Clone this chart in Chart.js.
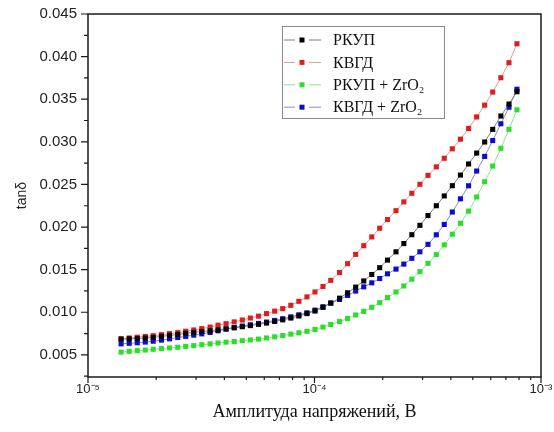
<!DOCTYPE html>
<html>
<head>
<meta charset="utf-8">
<script src="https://cdn.jsdelivr.net/npm/chart.js@4.4.1/dist/chart.umd.min.js"></script>
<style>
    html, body { margin: 0; padding: 0; background: #fff; }
    #wrap { width: 554px; height: 432px; }
</style>
</head>
<body>
<div id="wrap"><canvas id="lossChart" width="554" height="432"></canvas></div>
<script>
// амплитуда напряжений, В
var amplitude = [
    1.40e-5, 1.52e-5, 1.65e-5, 1.79e-5, 1.94e-5, 2.11e-5, 2.29e-5, 2.49e-5, 2.70e-5, 2.93e-5,
    3.18e-5, 3.46e-5, 3.75e-5, 4.07e-5, 4.42e-5, 4.80e-5, 5.21e-5, 5.66e-5, 6.14e-5, 6.67e-5,
    7.24e-5, 7.86e-5, 8.53e-5, 9.26e-5, 1.005e-4, 1.09e-4, 1.18e-4, 1.29e-4, 1.40e-4, 1.52e-4,
    1.65e-4, 1.79e-4, 1.94e-4, 2.10e-4, 2.29e-4, 2.48e-4, 2.69e-4, 2.92e-4, 3.17e-4, 3.45e-4,
    3.74e-4, 4.06e-4, 4.41e-4, 4.79e-4, 5.20e-4, 5.64e-4, 6.12e-4, 6.65e-4, 7.22e-4, 7.83e-4
];

var tanRkup = [
    0.00684, 0.00688, 0.00691, 0.00697, 0.00704, 0.00716, 0.00728, 0.00739, 0.00752, 0.00763,
    0.00774, 0.00783, 0.00794, 0.00805, 0.00817, 0.00830, 0.00843, 0.00858, 0.00873, 0.00892,
    0.00911, 0.00932, 0.00956, 0.00984, 0.01014, 0.01058, 0.01108, 0.01165, 0.01228, 0.01295,
    0.01367, 0.01443, 0.01523, 0.01612, 0.01709, 0.01806, 0.01910, 0.02020, 0.02135, 0.02250,
    0.02365, 0.02485, 0.02610, 0.02740, 0.02868, 0.02998, 0.03146, 0.03303, 0.03443, 0.03588
];

var tanKvgd = [
    0.00690, 0.00698, 0.00707, 0.00716, 0.00725, 0.00737, 0.00749, 0.00761, 0.00777, 0.00792,
    0.00808, 0.00826, 0.00848, 0.00866, 0.00887, 0.00909, 0.00932, 0.00954, 0.00984, 0.01013,
    0.01042, 0.01081, 0.01128, 0.01180, 0.01238, 0.01302, 0.01374, 0.01466, 0.01570, 0.01679,
    0.01781, 0.01884, 0.01986, 0.02088, 0.02192, 0.02295, 0.02396, 0.02502, 0.02606, 0.02706,
    0.02807, 0.02918, 0.03031, 0.03157, 0.03292, 0.03430, 0.03584, 0.03752, 0.03928, 0.04151
];

var tanRkupZr = [
    0.00532, 0.00541, 0.00549, 0.00556, 0.00565, 0.00573, 0.00581, 0.00589, 0.00599, 0.00608,
    0.00619, 0.00629, 0.00639, 0.00649, 0.00657, 0.00666, 0.00675, 0.00685, 0.00698, 0.00711,
    0.00727, 0.00743, 0.00758, 0.00776, 0.00798, 0.00826, 0.00856, 0.00890, 0.00927, 0.00968,
    0.01010, 0.01058, 0.01112, 0.01172, 0.01238, 0.01308, 0.01388, 0.01476, 0.01574, 0.01676,
    0.01791, 0.01916, 0.02044, 0.02187, 0.02353, 0.02532, 0.02715, 0.02924, 0.03147, 0.03376
];

var tanKvgdZr = [
    0.00629, 0.00635, 0.00642, 0.00650, 0.00660, 0.00673, 0.00688, 0.00703, 0.00717, 0.00731,
    0.00746, 0.00763, 0.00782, 0.00802, 0.00821, 0.00838, 0.00853, 0.00869, 0.00885, 0.00904,
    0.00924, 0.00946, 0.00970, 0.00993, 0.01025, 0.01064, 0.01107, 0.01150, 0.01197, 0.01249,
    0.01298, 0.01345, 0.01396, 0.01451, 0.01506, 0.01565, 0.01633, 0.01709, 0.01797, 0.01909,
    0.02030, 0.02176, 0.02331, 0.02484, 0.02657, 0.02829, 0.03015, 0.03212, 0.03406, 0.03617
];

var seriesNames = ['РКУП', 'КВГД', 'РКУП + ZrO₂', 'КВГД + ZrO₂'];
var xTickValues = [1e-5, 1e-4, 1e-3];
var xTickLabels = ['10⁻⁵', '10⁻⁴', '10⁻³'];
var yTickValues = [0.005, 0.010, 0.015, 0.020, 0.025, 0.030, 0.035, 0.040, 0.045];
var yMinorValues = [0.0025, 0.0075, 0.0125, 0.0175, 0.0225, 0.0275, 0.0325, 0.0375, 0.0425];
var logMinorSteps = [2, 3, 4, 5, 6, 7, 8, 9];

var markColors = ['#000000', '#dc1e1e', '#2ade2a', '#0c0cd0'];
var lineColors = ['#808080', '#d99c9c', '#92e092', '#8c8cc8'];

function toPoints(ys) {
    return amplitude.map(function (x, i) { return { x: x, y: ys[i] }; });
}

// рамка графика и засечки осей
var frameTicks = {
    id: 'frameTicks',
    afterDraw: function (chart) {
        var ctx = chart.ctx;
        var a = chart.chartArea;
        var sx = chart.scales.x;
        var sy = chart.scales.y;
        ctx.save();
        ctx.strokeStyle = '#1a1a1a';
        ctx.lineWidth = 1.5;
        ctx.strokeRect(a.left, a.top, a.right - a.left, a.bottom - a.top);

        ctx.lineWidth = 1.2;
        ctx.beginPath();
        xTickValues.forEach(function (v, k) {
            var px = sx.getPixelForValue(v);
            ctx.moveTo(px, a.bottom);
            ctx.lineTo(px, a.bottom + 6);
            if (k < xTickValues.length - 1) {
                logMinorSteps.forEach(function (m) {
                    var mx = sx.getPixelForValue(v * m);
                    ctx.moveTo(mx, a.bottom);
                    ctx.lineTo(mx, a.bottom + 3);
                });
            }
        });
        yTickValues.forEach(function (v) {
            var py = sy.getPixelForValue(v);
            ctx.moveTo(a.left, py);
            ctx.lineTo(a.left - 7, py);
        });
        yMinorValues.forEach(function (v) {
            var py = sy.getPixelForValue(v);
            ctx.moveTo(a.left, py);
            ctx.lineTo(a.left - 4, py);
        });
        ctx.stroke();
        ctx.restore();
    }
};

// легенда внутри поля графика
var boxLegend = {
    id: 'boxLegend',
    afterDraw: function (chart) {
        var ctx = chart.ctx;
        var left = 282, top = 26, w = 162, h = 92;
        ctx.save();
        ctx.fillStyle = '#ffffff';
        ctx.fillRect(left, top, w, h);
        ctx.strokeStyle = '#8a8a8a';
        ctx.lineWidth = 1;
        ctx.strokeRect(left + 0.5, top + 0.5, w, h);
        chart.data.datasets.forEach(function (ds, i) {
            var cy = top + 14 + i * 22.4;
            ctx.strokeStyle = lineColors[i];
            ctx.lineWidth = 1;
            ctx.beginPath();
            ctx.moveTo(left + 2, cy);
            ctx.lineTo(left + 13, cy);
            ctx.moveTo(left + 27, cy);
            ctx.lineTo(left + 39, cy);
            ctx.stroke();
            ctx.fillStyle = markColors[i];
            ctx.fillRect(left + 17.5, cy - 2.5, 5, 5);
            ctx.fillStyle = '#111111';
            ctx.font = '16px "Liberation Serif", "Times New Roman", serif';
            ctx.textBaseline = 'middle';
            ctx.textAlign = 'left';
            ctx.fillText(ds.label, left + 51, cy + 1);
        });
        ctx.restore();
    }
};

var datasets = [tanRkup, tanKvgd, tanRkupZr, tanKvgdZr].map(function (ys, i) {
    return {
        label: seriesNames[i],
        data: toPoints(ys),
        showLine: true,
        borderColor: lineColors[i],
        borderWidth: 1,
        pointStyle: 'rect',
        pointRadius: 3.6,
        pointBackgroundColor: markColors[i],
        pointBorderColor: markColors[i],
        pointBorderWidth: 0
    };
});

var lossChart = new Chart(document.getElementById('lossChart').getContext('2d'), {
    type: 'scatter',
    data: { datasets: datasets },
    options: {
        responsive: false,
        animation: false,
        devicePixelRatio: 1,
        layout: { padding: { top: 14, right: 13, left: 0, bottom: 0 } },
        plugins: {
            legend: { display: false },
            tooltip: { enabled: false }
        },
        scales: {
            x: {
                type: 'logarithmic',
                min: 1e-5,
                max: 1e-3,
                grid: { display: false, drawTicks: false },
                border: { display: false },
                afterBuildTicks: function (scale) {
                    scale.ticks = xTickValues.map(function (v) { return { value: v }; });
                },
                afterFit: function (scale) {
                    scale.height = 55;
                    scale.paddingLeft = 0;
                    scale.paddingRight = 0;
                },
                ticks: {
                    padding: 5,
                    maxRotation: 0,
                    autoSkip: false,
                    color: '#222222',
                    font: { family: '"Liberation Sans", Arial, sans-serif', size: 13 },
                    callback: function (value) {
                        var k = xTickValues.indexOf(value);
                        return k >= 0 ? xTickLabels[k] : '';
                    }
                },
                title: {
                    display: true,
                    text: 'Амплитуда напряжений, В',
                    color: '#111111',
                    font: { family: '"Liberation Serif", "Times New Roman", serif', size: 18 },
                    padding: { top: 0, bottom: 9 }
                }
            },
            y: {
                min: 0.0024,
                max: 0.045,
                grid: { display: false, drawTicks: false },
                border: { display: false },
                afterBuildTicks: function (scale) {
                    scale.ticks = yTickValues.map(function (v) { return { value: v }; });
                },
                afterFit: function (scale) {
                    scale.width = 88;
                    scale.paddingTop = 0;
                    scale.paddingBottom = 0;
                },
                ticks: {
                    padding: 11,
                    autoSkip: false,
                    color: '#222222',
                    font: { family: '"Liberation Sans", Arial, sans-serif', size: 15 },
                    callback: function (value) { return value.toFixed(3); }
                },
                title: {
                    display: true,
                    text: 'tanδ',
                    color: '#222222',
                    font: { family: '"Liberation Sans", Arial, sans-serif', size: 14 },
                    padding: { top: 14, bottom: 0 }
                }
            }
        }
    },
    plugins: [frameTicks, boxLegend]
});
</script>
</body>
</html>
